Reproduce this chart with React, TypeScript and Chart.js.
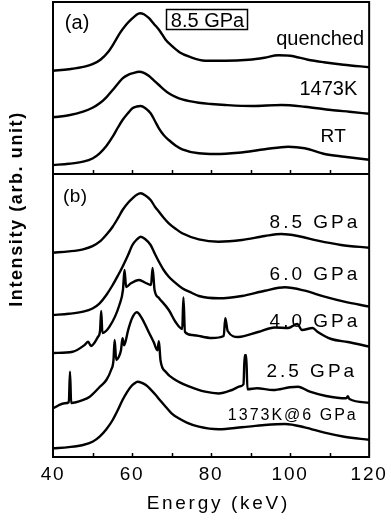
import React, { useEffect, useRef } from "react";
import { Chart, registerables } from "chart.js";

Chart.register(...registerables);

const FONT = "'Liberation Sans', Arial, Helvetica, sans-serif";

// ---------- Panel (a): 8.5 GPa ----------
const quenchedE = [40, 44, 48, 50, 52, 54, 55.5, 57, 58.5, 60, 61, 62, 63, 64.3, 65.5, 67, 68.5, 70, 72, 74.5, 78.5, 83.5, 89.5, 93.5, 97, 100, 104.5, 108.5, 113.5, 120];
const quenchedI = [0, 1.5, 4, 6.5, 11, 19, 28, 38, 46, 52, 55.5, 57.5, 56.5, 52.5, 47, 40, 31, 25, 18.5, 14, 10, 10, 11, 13, 15.5, 15, 11, 8.5, 6, 3.5];

const k1473E = [40, 44, 47.6, 50, 51.8, 53.5, 55.1, 56.5, 57.6, 59, 60.1, 61.8, 63, 64.3, 65.5, 66.8, 68, 69.3, 71, 72.7, 76.9, 80, 83.6, 90.3, 97.8, 103.7, 110.4, 115, 120];
const k1473I = [0, 2, 5.6, 9.5, 14, 20, 27.3, 34, 39, 42.5, 44, 45.6, 44.5, 41.3, 37, 32.3, 28, 24, 20.5, 18, 14.6, 13.3, 12.3, 11.3, 12.3, 10.6, 7.3, 5.5, 3.5];

const rtE = [40, 44, 47.6, 50, 51.8, 53.5, 55.1, 56.5, 57.6, 59, 60.1, 61.2, 62.2, 63.3, 64.7, 65.8, 66.8, 68, 69.3, 71, 72.7, 76.9, 81.1, 86.9, 93.6, 99.5, 103.7, 108.7, 113.7, 120];
const rtI = [0, 1.2, 3.3, 6.5, 11.7, 19, 28.3, 38, 45, 52, 56.7, 58.5, 59, 57, 51.7, 44, 36.7, 30, 25, 19.5, 15.7, 11.7, 11, 12.3, 15.7, 18.3, 16.7, 11, 8.3, 5.3];

// ---------- Panel (b): pressure series ----------
const p85E = [40, 44, 47.6, 50, 51.8, 53.5, 55.1, 56.5, 57.6, 59, 60.1, 61.2, 62.2, 63.3, 64.7, 65.8, 66.8, 68, 69.3, 71, 72.7, 76.9, 81.9, 87.8, 93.6, 97.8, 102, 107, 112.9, 120];
const p85I = [0, 1.3, 3.4, 6.5, 11, 18, 26, 35, 42.7, 50, 54.4, 58, 59.4, 57.5, 52.7, 46, 41, 35, 29.4, 24, 19.4, 13.4, 11, 12.7, 16.7, 18.7, 16.7, 12, 7.7, 5];

const p60E = [40, 44, 47.6, 50, 51.8, 53.5, 55.1, 56.5, 57.6, 59, 60.1, 61.2, 62.2, 63.3, 64.7, 65.8, 66.8, 68, 69.3, 71, 72.7, 75.2, 76.9, 81.9, 87.8, 93.6, 98.7, 103.7, 108.7, 113.7, 120];
const p60I = [0, 1.2, 3.3, 6.5, 11.7, 20, 30, 40, 48.3, 60, 70, 75.5, 78.3, 76, 70, 61, 53.3, 45, 38.3, 32, 26.7, 22, 19, 16.7, 19, 24.3, 27.7, 24.3, 18.3, 13.3, 8.5];

const p40E = [40, 45, 48, 48.9, 49.6, 51.4, 51.9, 52.2, 52.5, 54.3, 56.8, 57.7, 58.1, 58.5, 59.7, 61.8, 63.5, 64.8, 65.2, 65.7, 66.8, 69.3, 71, 72.7, 73.0, 73.4, 75.2, 80.2, 83.2, 83.6, 84.2, 86.9, 91.9, 96.1, 99.5, 101.8, 103, 105.7, 107, 110.4, 114.6, 120];
const p40I = [0, 1.3, 8, 11.3, 7, 16.3, 22, 42, 20, 26.3, 48, 63, 83, 66, 69.7, 73, 70, 68, 85, 63, 55, 43, 31, 24, 55.5, 21, 18, 15, 17, 34.7, 22, 16, 21, 25.5, 25, 29, 23, 25, 21, 14, 11, 6.5];

const p25E = [40, 43, 44.0, 44.3, 44.6, 47.6, 49.3, 51.8, 53.5, 54.7, 55.3, 55.6, 56.0, 56.6, 57.2, 57.6, 58.0, 59, 60, 61.2, 62.5, 64, 65.5, 66.4, 66.8, 67.2, 68.5, 71, 74.4, 78.5, 81.9, 85.3, 87.4, 88.2, 88.5, 88.9, 89.2, 91.6, 95.7, 99.9, 102, 105, 109.1, 114.2, 114.6, 115, 120];
const p25I = [0, 5, 6, 36.6, 5.3, 8.3, 11.6, 21.3, 28.3, 38.3, 48, 68.3, 48.3, 51, 58, 70, 63, 78, 90, 96, 90, 78, 66, 58, 67, 48, 36.6, 28.3, 22, 16.6, 14.8, 18.3, 22, 24, 53, 53, 19, 20, 18.3, 21, 21.6, 16.6, 12.3, 10, 12, 9.3, 5.5];

const k1373E = [40, 44, 47.6, 50, 51.8, 53.5, 55.1, 56.5, 57.6, 58.7, 59.7, 60.5, 61.4, 62.5, 63.5, 64.8, 66, 67.2, 68.5, 70, 71.8, 74, 76.9, 81.9, 87.8, 93.6, 98.7, 103.7, 108.7, 113.7, 120];
const k1373I = [0, 1.2, 3.3, 6.5, 11.6, 19, 28.3, 39, 48.3, 56, 61.6, 64.5, 66.6, 65.5, 63.3, 58.5, 53.3, 47.5, 41.6, 35, 30, 25.5, 21.6, 19, 21, 23.3, 24.3, 21, 15.6, 11.6, 8.5];

// vertical offsets of the stacked spectra (arb. units)
const seriesNames = ["quenched", "1473K", "RT", "8.5 GPa", "6.0 GPa", "4.0 GPa", "2.5 GPa", "1373K@6 GPa"];
const seriesOffsets = [386.3, 339.7, 292, 204.3, 142, 104, 48.7, 8.7];
const seriesEnergies = [quenchedE, k1473E, rtE, p85E, p60E, p40E, p25E, k1373E];
const seriesIntensities = [quenchedI, k1473I, rtI, p85I, p60I, p40I, p25I, k1373I];

// axis ranges
const energyMin = 40;
const energyMax = 120;
const energyStep = 10;
const intensityMax = 455;
const panelSplit = 283;

type Lbl = { text: string; e: number; v: number; align: CanvasTextAlign; size: number; sp: number; bold?: boolean; box?: boolean; rot?: boolean };
const plotLabels: Lbl[] = [
  { text: "(a)", e: 43.0, v: 428.5, align: "left", size: 20, sp: 0 },
  { text: "8.5 GPa", e: 69.8, v: 430.3, align: "left", size: 20, sp: 0, box: true },
  { text: "quenched", e: 118.7, v: 412, align: "right", size: 20, sp: 0 },
  { text: "1473K", e: 117.0, v: 362, align: "right", size: 20, sp: 0 },
  { text: "RT", e: 114.1, v: 315.3, align: "right", size: 19, sp: 0.3 },
  { text: "(b)", e: 42.5, v: 255.5, align: "left", size: 19, sp: 0.5 },
  { text: "8.5 GPa", e: 117.0, v: 229, align: "right", size: 19, sp: 3 },
  { text: "6.0 GPa", e: 117.0, v: 177, align: "right", size: 19, sp: 3 },
  { text: "4.0 GPa", e: 117.0, v: 130, align: "right", size: 19, sp: 3 },
  { text: "2.5 GPa", e: 116.2, v: 80.3, align: "right", size: 19, sp: 3 },
  { text: "1373K@6 GPa", e: 116.6, v: 37, align: "right", size: 16, sp: 2 },
  { text: "Energy (keV)", e: 81.5, v: -52, align: "center", size: 19, sp: 2.7 },
];
const yTitle = "Intensity (arb. unit)";

const framePlugin = {
  id: "framePlugin",
  afterDatasetsDraw(chart: any) {
    const { ctx, chartArea: a, scales } = chart;
    const xs = scales.x;
    const ys = scales.y;
    ctx.save();
    ctx.letterSpacing = "0px";
    ctx.strokeStyle = "#000";
    ctx.lineWidth = 2;
    ctx.strokeRect(a.left, a.top, a.right - a.left, a.bottom - a.top);
    const yd = ys.getPixelForValue(panelSplit);
    ctx.beginPath();
    ctx.moveTo(a.left, yd);
    ctx.lineTo(a.right, yd);
    ctx.stroke();
    ctx.lineWidth = 1.5;
    ctx.beginPath();
    for (const t of xs.ticks) {
      if (t.value <= energyMin || t.value >= energyMax) continue;
      const px = Math.round(xs.getPixelForValue(t.value)) + 0.5;
      ctx.moveTo(px, a.bottom);
      ctx.lineTo(px, a.bottom - 4);
      ctx.moveTo(px, yd);
      ctx.lineTo(px, yd - 4);
    }
    ctx.stroke();
    ctx.restore();
    // spacing for the tick labels drawn next by the x scale
    ctx.letterSpacing = "1.8px";
  },
  afterDraw(chart: any) {
    const { ctx, chartArea: a, scales } = chart;
    const xs = scales.x;
    const ys = scales.y;
    ctx.save();
    ctx.fillStyle = "#000";
    ctx.strokeStyle = "#000";
    ctx.textBaseline = "alphabetic";
    for (const l of plotLabels) {
      ctx.font = `${l.bold ? "bold " : ""}${l.size}px ${FONT}`;
      ctx.letterSpacing = `${l.sp}px`;
      ctx.textAlign = l.align;
      let px = xs.getPixelForValue(l.e);
      const py = ys.getPixelForValue(l.v);
      if (l.align === "right") px += l.sp;
      if (l.align === "center") px += l.sp / 2;
      ctx.fillText(l.text, px, py);
      if (l.box) {
        const w = ctx.measureText(l.text).width;
        ctx.lineWidth = 1.5;
        ctx.strokeRect(Math.round(px - 5) + 0.5, Math.round(py - 17.5) + 0.5, Math.round(w + 8), 20);
      }
    }
    // y axis title
    ctx.font = `bold 18px ${FONT}`;
    ctx.letterSpacing = "1.6px";
    ctx.textAlign = "center";
    ctx.textBaseline = "middle";
    ctx.translate(a.left - 36, ys.getPixelForValue(248));
    ctx.rotate(-Math.PI / 2);
    ctx.fillText(yTitle, 0, 0);
    ctx.restore();
    ctx.letterSpacing = "0px";
  },
};

export default function App() {
  const ref = useRef<HTMLCanvasElement | null>(null);
  useEffect(() => {
    if (!ref.current) return;
    const datasets = seriesNames.map((name, i) => ({
      label: name,
      data: seriesEnergies[i].map((e, j) => ({ x: e, y: seriesIntensities[i][j] + seriesOffsets[i] })),
      borderColor: "#000",
      borderWidth: 2.4,
      pointRadius: 0,
      fill: false,
      cubicInterpolationMode: "monotone" as const,
    }));
    const chart = new Chart(ref.current, {
      type: "line",
      data: { datasets },
      options: {
        animation: false,
        responsive: false,
        layout: { padding: { left: 53, right: 19, top: 2, bottom: 0 } },
        plugins: { legend: { display: false }, tooltip: { enabled: false } },
        scales: {
          x: {
            type: "linear",
            min: energyMin,
            max: energyMax,
            grid: { display: false, drawTicks: false },
            border: { display: false },
            ticks: {
              stepSize: energyStep,
              autoSkip: false,
              maxRotation: 0,
              z: 1,
              padding: 6,
              color: "#000",
              font: { family: FONT, size: 19 },
              callback: (v: any) => (Number(v) % 20 === 0 ? String(v) : ""),
            },
            title: { display: false },
            afterFit: (s: any) => {
              s.height = 63;
            },
          },
          y: { display: false, min: 0, max: intensityMax },
        },
      },
      plugins: [framePlugin],
    });
    return () => chart.destroy();
  }, []);
  return (
    <div style={{ position: "absolute", left: 0, top: 0, width: 391, height: 520, background: "#fff" }}>
      <canvas ref={ref} width={391} height={520} style={{ display: "block" }} />
    </div>
  );
}
